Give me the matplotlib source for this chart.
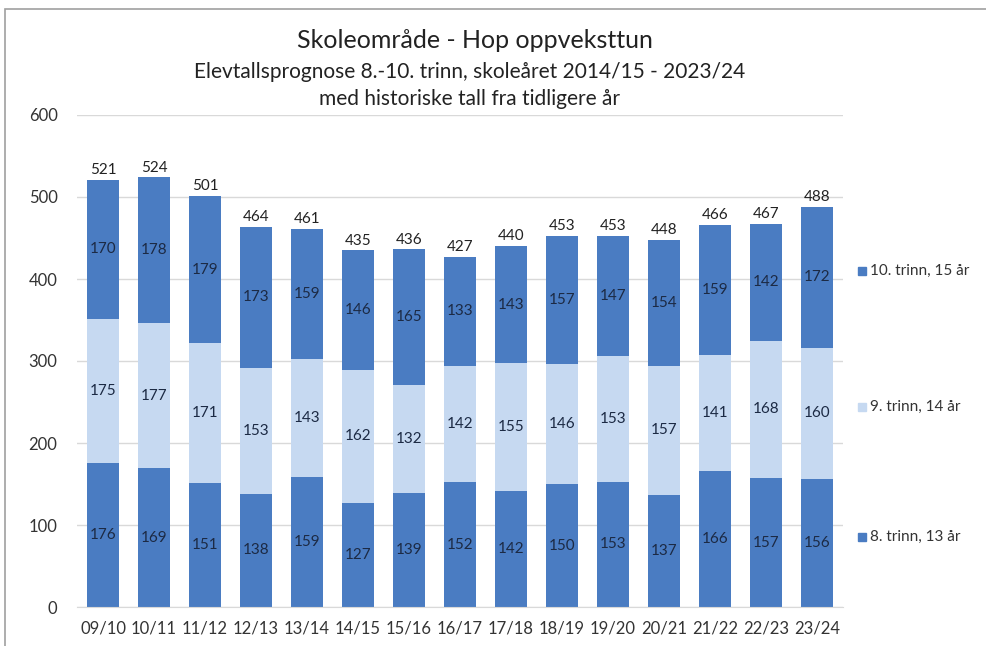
import matplotlib
matplotlib.use("Agg")
import matplotlib.pyplot as plt
from matplotlib.patches import Rectangle
import numpy as np

categories = ["09/10", "10/11", "11/12", "12/13", "13/14", "14/15", "15/16", "16/17",
              "17/18", "18/19", "19/20", "20/21", "21/22", "22/23", "23/24"]
trinn8 = [176, 169, 151, 138, 159, 127, 139, 152, 142, 150, 153, 137, 166, 157, 156]
trinn9 = [175, 177, 171, 153, 143, 162, 132, 142, 155, 146, 153, 157, 141, 168, 160]
trinn10 = [170, 178, 179, 173, 159, 146, 165, 133, 143, 157, 147, 154, 159, 142, 172]
series_names = ["8. trinn, 13 år", "9. trinn, 14 år", "10. trinn, 15 år"]
title_lines = ["Skoleområde - Hop oppveksttun",
               "Elevtallsprognose 8.-10. trinn, skoleåret 2014/15 - 2023/24",
               "med historiske tall fra tidligere år"]

plt.rcParams['font.family'] = ['Lato', 'DejaVu Sans']

dark = "#4a7cc2"
light = "#c6d9f1"
label_col = "#1c2a44"

W, H = 987, 646
fig = plt.figure(figsize=(W / 100, H / 100), dpi=100)
ax = fig.add_axes([77 / W, 1 - 607 / H, (843 - 77) / W, (607 - 115) / H])

x = np.arange(len(categories))
a8 = np.array(trinn8); a9 = np.array(trinn9); a10 = np.array(trinn10)
bw = 0.64
b1 = ax.bar(x, a8, bw, color=dark, label=series_names[0], zorder=2)
b2 = ax.bar(x, a9, bw, bottom=a8, color=light, label=series_names[1], zorder=2)
b3 = ax.bar(x, a10, bw, bottom=a8 + a9, color=dark, label=series_names[2], zorder=2)

for bars in (b1, b2, b3):
    ax.bar_label(bars, label_type="center", fontsize=11, color=label_col)
totals = a8 + a9 + a10
for xi, t in zip(x, totals):
    ax.annotate(str(t), (xi, t), xytext=(0, 2), textcoords="offset points",
                ha="center", va="bottom", fontsize=11, color="#222222")

ax.set_xlim(-0.51, len(categories) - 0.49)
ax.set_ylim(0, 600)
ax.set_yticks(range(0, 601, 100))
ax.set_xticks(x)
ax.set_xticklabels(categories)
ax.tick_params(axis="both", length=0, labelsize=12, colors="#333333")
ax.tick_params(axis="y", pad=14)
ax.tick_params(axis="x", pad=10)
ax.grid(axis="y", color="#d9d9d9", linewidth=1, zorder=0)
for s in ["top", "right", "left"]:
    ax.spines[s].set_visible(False)
ax.spines["bottom"].set_color("#d9d9d9")

# Titles
fig.text(475 / W, 1 - 40 / H, title_lines[0], ha="center", va="center", fontsize=18, color="#222222")
fig.text(470 / W, 1 - 72 / H, title_lines[1], ha="center", va="center", fontsize=15, color="#222222")
fig.text(470 / W, 1 - 99 / H, title_lines[2], ha="center", va="center", fontsize=15, color="#222222")

# Legend (manual, aligned to segments of last bar)
leg_items = [(series_names[2], dark, 271), (series_names[1], light, 407), (series_names[0], dark, 537)]
for name, col, yp in leg_items:
    fig.patches.append(Rectangle((858 / W, 1 - (yp + 4) / H), 8 / W, 8 / H,
                                 transform=fig.transFigure, color=col))
    fig.text(870 / W, 1 - yp / H, name, ha="left", va="center", fontsize=11, color="#333333")

# Frame border
fig.patches.append(Rectangle((5 / W, -0.01), 1.02, 1 - 9 / H + 0.01, transform=fig.transFigure,
                             fill=False, edgecolor="#a0a0a0", linewidth=1.2))

fig.savefig("out.png", dpi=100)
